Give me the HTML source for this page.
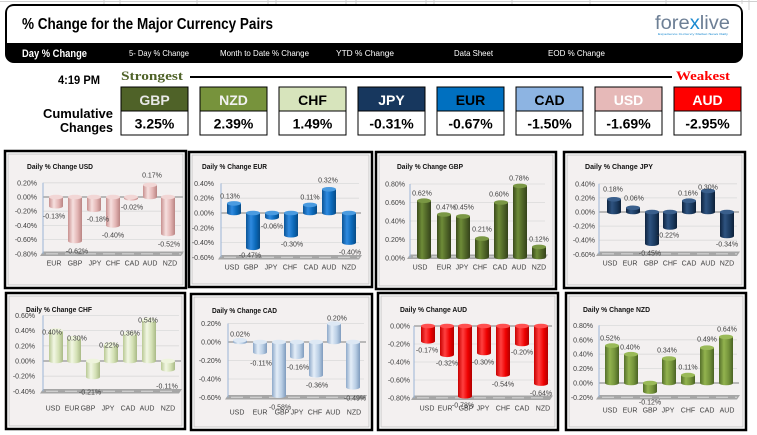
<!DOCTYPE html>
<html><head><meta charset="utf-8"><style>html,body{margin:0;padding:0;background:#fff;width:757px;height:435px;overflow:hidden}svg{display:block}</style></head>
<body>
<svg width="757" height="435" viewBox="0 0 757 435" xmlns="http://www.w3.org/2000/svg" font-family="'Liberation Sans',sans-serif">
<defs>
<linearGradient id="gPk" x1="0" x2="1"><stop offset="0" stop-color="#c8908f"/><stop offset="0.35" stop-color="#f6e0df"/><stop offset="0.7" stop-color="#e2b3b2"/><stop offset="1" stop-color="#b98483"/></linearGradient>
<linearGradient id="gBl" x1="0" x2="1"><stop offset="0" stop-color="#0b5496"/><stop offset="0.35" stop-color="#2f8ae0"/><stop offset="0.7" stop-color="#0a68b8"/><stop offset="1" stop-color="#084a85"/></linearGradient>
<linearGradient id="gDg" x1="0" x2="1"><stop offset="0" stop-color="#3b4b1c"/><stop offset="0.35" stop-color="#6e8c38"/><stop offset="0.7" stop-color="#4e6327"/><stop offset="1" stop-color="#34421a"/></linearGradient>
<linearGradient id="gNv" x1="0" x2="1"><stop offset="0" stop-color="#0f2440"/><stop offset="0.35" stop-color="#2e5380"/><stop offset="0.7" stop-color="#1b3a60"/><stop offset="1" stop-color="#0d2038"/></linearGradient>
<linearGradient id="gLg" x1="0" x2="1"><stop offset="0" stop-color="#b9c994"/><stop offset="0.35" stop-color="#f2f7e4"/><stop offset="0.7" stop-color="#d3e0b4"/><stop offset="1" stop-color="#a9b986"/></linearGradient>
<linearGradient id="gLb" x1="0" x2="1"><stop offset="0" stop-color="#8ea9c9"/><stop offset="0.35" stop-color="#e4eef8"/><stop offset="0.7" stop-color="#b8cde4"/><stop offset="1" stop-color="#7f9bbd"/></linearGradient>
<linearGradient id="gRd" x1="0" x2="1"><stop offset="0" stop-color="#c80000"/><stop offset="0.35" stop-color="#ff4040"/><stop offset="0.7" stop-color="#ee0000"/><stop offset="1" stop-color="#b00000"/></linearGradient>
<linearGradient id="gGr" x1="0" x2="1"><stop offset="0" stop-color="#55702a"/><stop offset="0.35" stop-color="#93b34f"/><stop offset="0.7" stop-color="#73923a"/><stop offset="1" stop-color="#4a6224"/></linearGradient>
<clipPath id="cEur"><rect x="192" y="155" width="177" height="129"/></clipPath>
</defs>

<!-- excel grid remnants -->
<line x1="0" y1="1.5" x2="757" y2="1.5" stroke="#d0d0d0" stroke-width="1"/>
<g stroke="#d0d0d0" stroke-width="1">
<line x1="104" y1="0" x2="104" y2="4"/><line x1="120" y1="0" x2="120" y2="4"/><line x1="197" y1="0" x2="197" y2="4"/><line x1="268" y1="0" x2="268" y2="4"/><line x1="276" y1="0" x2="276" y2="4"/><line x1="346" y1="0" x2="346" y2="4"/><line x1="356" y1="0" x2="356" y2="4"/><line x1="426" y1="0" x2="426" y2="4"/><line x1="434" y1="0" x2="434" y2="4"/><line x1="512" y1="0" x2="512" y2="4"/><line x1="590" y1="0" x2="590" y2="4"/><line x1="666" y1="0" x2="666" y2="4"/><line x1="742" y1="0" x2="742" y2="4"/><line x1="749" y1="0" x2="749" y2="10"/>
</g>

<!-- Header -->
<rect x="5" y="4" width="738" height="59" rx="9" fill="#000"/>
<path d="M7,43 V13 Q7,6 14,6 H734 Q741,6 741,13 V43 Z" fill="#fff"/>
<text x="22" y="29" font-family="'Liberation Sans Narrow','Liberation Sans',sans-serif" font-weight="bold" font-size="16" textLength="251" lengthAdjust="spacingAndGlyphs" fill="#000">% Change for the Major Currency Pairs</text>
<text x="655" y="29" font-size="19" fill="#6d7f95" textLength="75" lengthAdjust="spacingAndGlyphs">fore<tspan fill="#1b8ad0">x</tspan>live</text>
<text x="658" y="35" font-size="3" fill="#1b8ad0" textLength="70" lengthAdjust="spacingAndGlyphs">Experience Currency Market News Daily</text>
<g fill="#fff" font-family="'Liberation Sans Narrow','Liberation Sans',sans-serif">
<text x="22" y="57" font-size="11" font-weight="bold" textLength="65" lengthAdjust="spacingAndGlyphs">Day % Change</text>
<text x="129" y="56" font-size="8.5" textLength="60" lengthAdjust="spacingAndGlyphs">5- Day % Change</text>
<text x="220" y="56" font-size="8.5" textLength="89" lengthAdjust="spacingAndGlyphs">Month to Date % Change</text>
<text x="336" y="56" font-size="8.5" textLength="58" lengthAdjust="spacingAndGlyphs">YTD % Change</text>
<text x="454" y="56" font-size="8.5" textLength="39" lengthAdjust="spacingAndGlyphs">Data Sheet</text>
<text x="548" y="56" font-size="8.5" textLength="57" lengthAdjust="spacingAndGlyphs">EOD % Change</text>
</g>

<!-- strength row -->
<text x="58" y="84" font-family="'Liberation Sans Narrow','Liberation Sans',sans-serif" font-weight="bold" font-size="12" textLength="42" lengthAdjust="spacingAndGlyphs">4:19 PM</text>
<text x="121" y="80" font-family="'Liberation Serif',serif" font-weight="bold" font-size="13" fill="#4f6228" textLength="62" lengthAdjust="spacingAndGlyphs">Strongest</text>
<line x1="190" y1="77" x2="672" y2="77" stroke="#000" stroke-width="2"/>
<text x="676" y="80" font-family="'Liberation Serif',serif" font-weight="bold" font-size="13" fill="#ff0000" textLength="54" lengthAdjust="spacingAndGlyphs">Weakest</text>
<g font-family="'Liberation Sans Narrow','Liberation Sans',sans-serif" font-weight="bold" font-size="13" text-anchor="end">
<text x="113" y="118" textLength="70" lengthAdjust="spacingAndGlyphs">Cumulative</text>
<text x="113" y="132" textLength="53" lengthAdjust="spacingAndGlyphs">Changes</text>
</g>

<g stroke="#000" stroke-width="1">
<rect x="121" y="87" width="67" height="24" fill="#4f6228"/><rect x="121" y="111" width="67" height="24" fill="#fff"/>
<rect x="200" y="87" width="67" height="24" fill="#77933c"/><rect x="200" y="111" width="67" height="24" fill="#fff"/>
<rect x="279" y="87" width="67" height="24" fill="#d7e4bc"/><rect x="279" y="111" width="67" height="24" fill="#fff"/>
<rect x="358" y="87" width="67" height="24" fill="#17375e"/><rect x="358" y="111" width="67" height="24" fill="#fff"/>
<rect x="437" y="87" width="67" height="24" fill="#0070c0"/><rect x="437" y="111" width="67" height="24" fill="#fff"/>
<rect x="516" y="87" width="67" height="24" fill="#8db4e2"/><rect x="516" y="111" width="67" height="24" fill="#fff"/>
<rect x="595" y="87" width="67" height="24" fill="#e6b9b8"/><rect x="595" y="111" width="67" height="24" fill="#fff"/>
<rect x="674" y="87" width="67" height="24" fill="#ff0000"/><rect x="674" y="111" width="67" height="24" fill="#fff"/>
</g>
<g font-family="'Liberation Sans Narrow','Liberation Sans',sans-serif" font-weight="bold" font-size="14" text-anchor="middle">
<text x="154.5" y="105" fill="#e8e8e8">GBP</text>
<text x="233.5" y="105" fill="#f2f2f2">NZD</text>
<text x="312.5" y="105" fill="#000">CHF</text>
<text x="391.5" y="105" fill="#fff">JPY</text>
<text x="470.5" y="105" fill="#000">EUR</text>
<text x="549.5" y="105" fill="#000">CAD</text>
<text x="628.5" y="105" fill="#fff">USD</text>
<text x="707.5" y="105" fill="#fff">AUD</text>
<text x="154.5" y="128.5">3.25%</text>
<text x="233.5" y="128.5">2.39%</text>
<text x="312.5" y="128.5">1.49%</text>
<text x="391.5" y="128.5">-0.31%</text>
<text x="470.5" y="128.5">-0.67%</text>
<text x="549.5" y="128.5">-1.50%</text>
<text x="628.5" y="128.5">-1.69%</text>
<text x="707.5" y="128.5">-2.95%</text>
</g>

<!-- chart boxes -->
<g stroke="#000" stroke-width="2.5" fill="#fff">
<rect x="5" y="151" width="181" height="137"/>
<rect x="189" y="152" width="183" height="135"/>
<rect x="376" y="152" width="180" height="137"/>
<rect x="564" y="152" width="181" height="136"/>
<rect x="6" y="293" width="179" height="136"/>
<rect x="191" y="294" width="181" height="136"/>
<rect x="378" y="293" width="180" height="137"/>
<rect x="566" y="293" width="180" height="137"/>
</g>
<g stroke="#c0c0c0" stroke-width="0.8" fill="#f3f0f0">
<rect x="8" y="154" width="175" height="131"/>
<rect x="192" y="155" width="177" height="129"/>
<rect x="379" y="155" width="174" height="131"/>
<rect x="567" y="155" width="175" height="130"/>
<rect x="9" y="296" width="173" height="130"/>
<rect x="194" y="297" width="175" height="130"/>
<rect x="381" y="296" width="174" height="131"/>
<rect x="569" y="296" width="174" height="131"/>
</g>

<!-- gridlines -->
<g stroke="#dadada" stroke-width="0.8">
<line x1="43" y1="182.8" x2="181" y2="182.8"/><line x1="43" y1="211.2" x2="181" y2="211.2"/><line x1="43" y1="225.4" x2="181" y2="225.4"/><line x1="43" y1="239.6" x2="181" y2="239.6"/>
<line x1="221" y1="183.4" x2="359" y2="183.4"/><line x1="221" y1="198.2" x2="359" y2="198.2"/><line x1="221" y1="227.8" x2="359" y2="227.8"/><line x1="221" y1="242.6" x2="359" y2="242.6"/>
<line x1="410" y1="184" x2="545" y2="184"/><line x1="410" y1="202.5" x2="545" y2="202.5"/><line x1="410" y1="221" x2="545" y2="221"/><line x1="410" y1="239.5" x2="545" y2="239.5"/>
<line x1="599" y1="183.8" x2="737" y2="183.8"/><line x1="599" y1="197.9" x2="737" y2="197.9"/><line x1="599" y1="226.1" x2="737" y2="226.1"/><line x1="599" y1="240.2" x2="737" y2="240.2"/>
<line x1="43" y1="315.4" x2="179" y2="315.4"/><line x1="43" y1="330.6" x2="179" y2="330.6"/><line x1="43" y1="345.8" x2="179" y2="345.8"/><line x1="43" y1="376.2" x2="179" y2="376.2"/>
<line x1="228" y1="323.5" x2="364" y2="323.5"/><line x1="228" y1="360.5" x2="364" y2="360.5"/><line x1="228" y1="379" x2="364" y2="379"/>
<line x1="414" y1="344" x2="550" y2="344"/><line x1="414" y1="362" x2="550" y2="362"/><line x1="414" y1="380" x2="550" y2="380"/>
<line x1="599" y1="325.4" x2="737" y2="325.4"/><line x1="599" y1="339.8" x2="737" y2="339.8"/><line x1="599" y1="354.2" x2="737" y2="354.2"/><line x1="599" y1="368.6" x2="737" y2="368.6"/>
</g>
<!-- zero lines -->
<g stroke="#a6a6a6" stroke-width="1.6">
<line x1="43" y1="197" x2="183" y2="197"/>
<line x1="221" y1="213" x2="361" y2="213"/>
<line x1="599" y1="212" x2="739" y2="212"/>
<line x1="43" y1="361" x2="181" y2="361"/>
<line x1="228" y1="342" x2="366" y2="342"/>
<line x1="414" y1="326" x2="552" y2="326"/>
<line x1="599" y1="383" x2="739" y2="383"/>
</g>
<!-- floors -->
<g fill="#a6a6a6">
<polygon points="43,251.5 184,251.5 181,256 40,256"/>
<polygon points="221,255 362,255 359,259.5 218,259.5"/>
<polygon points="410,254.5 548,254.5 545,259 407,259"/>
<polygon points="599,251.5 740,251.5 737,256 596,256"/>
<polygon points="43,389 182,389 179,393.5 40,393.5"/>
<polygon points="228,395 367,395 364,399.5 225,399.5"/>
<polygon points="414,395.5 553,395.5 550,400 411,400"/>
<polygon points="599,395 740,395 737,399.5 596,399.5"/>
</g>
<g stroke="#d4d4d4" stroke-width="1.2" stroke-dasharray="12 7">
<line x1="46" y1="253.8" x2="181" y2="253.8"/>
<line x1="224" y1="257.3" x2="359" y2="257.3"/>
<line x1="413" y1="256.8" x2="545" y2="256.8"/>
<line x1="602" y1="253.8" x2="737" y2="253.8"/>
<line x1="46" y1="391.3" x2="179" y2="391.3"/>
<line x1="231" y1="397.3" x2="364" y2="397.3"/>
<line x1="417" y1="397.8" x2="550" y2="397.8"/>
<line x1="602" y1="397.3" x2="737" y2="397.3"/>
</g>
<!-- axes -->
<g stroke="#9bb5d6" stroke-width="1">
<line x1="43" y1="182.8" x2="43" y2="254"/>
<line x1="221" y1="183.4" x2="221" y2="257.4"/>
<line x1="410" y1="184" x2="410" y2="258"/>
<line x1="599" y1="183.8" x2="599" y2="254.3"/>
<line x1="43" y1="315.4" x2="43" y2="391.4"/>
<line x1="228" y1="323.5" x2="228" y2="397.5"/>
<line x1="414" y1="326" x2="414" y2="398"/>
<line x1="599" y1="325.4" x2="599" y2="397.4"/>
</g>

<!-- Chart 1 USD bars -->
<g>
<rect x="49" y="197" width="14" height="9.2" fill="url(#gPk)"/><ellipse cx="56" cy="206.2" rx="7" ry="2.3" fill="url(#gPk)"/><ellipse cx="56" cy="197" rx="7" ry="2.3" fill="#f2d6d5"/>
<rect x="68" y="197" width="14" height="44" fill="url(#gPk)"/><ellipse cx="75" cy="241" rx="7" ry="2.3" fill="url(#gPk)"/><ellipse cx="75" cy="197" rx="7" ry="2.3" fill="#f2d6d5"/>
<rect x="87" y="197" width="14" height="12.8" fill="url(#gPk)"/><ellipse cx="94" cy="209.8" rx="7" ry="2.3" fill="url(#gPk)"/><ellipse cx="94" cy="197" rx="7" ry="2.3" fill="#f2d6d5"/>
<rect x="106" y="197" width="14" height="28.4" fill="url(#gPk)"/><ellipse cx="113" cy="225.4" rx="7" ry="2.3" fill="url(#gPk)"/><ellipse cx="113" cy="197" rx="7" ry="2.3" fill="#f2d6d5"/>
<rect x="124" y="197" width="14" height="1.4" fill="url(#gPk)"/><ellipse cx="131" cy="198.4" rx="7" ry="2.3" fill="url(#gPk)"/><ellipse cx="131" cy="197" rx="7" ry="2.3" fill="#f2d6d5"/>
<rect x="143" y="184.9" width="14" height="12.1" fill="url(#gPk)"/><ellipse cx="150" cy="197" rx="7" ry="2.3" fill="url(#gPk)"/><ellipse cx="150" cy="184.9" rx="7" ry="2.3" fill="#f2d6d5"/>
<rect x="161" y="197" width="14" height="36.9" fill="url(#gPk)"/><ellipse cx="168" cy="233.9" rx="7" ry="2.3" fill="url(#gPk)"/><ellipse cx="168" cy="197" rx="7" ry="2.3" fill="#f2d6d5"/>
</g>
<!-- Chart 2 EUR bars -->
<g>
<rect x="227" y="203.4" width="14" height="9.6" fill="url(#gBl)"/><ellipse cx="234" cy="213" rx="7" ry="2.3" fill="url(#gBl)"/><ellipse cx="234" cy="203.4" rx="7" ry="2.3" fill="#4a9be0"/>
<rect x="246" y="213" width="14" height="34.8" fill="url(#gBl)"/><ellipse cx="253" cy="247.8" rx="7" ry="2.3" fill="url(#gBl)"/><ellipse cx="253" cy="213" rx="7" ry="2.3" fill="#4a9be0"/>
<rect x="265" y="213" width="14" height="4.4" fill="url(#gBl)"/><ellipse cx="272" cy="217.4" rx="7" ry="2.3" fill="url(#gBl)"/><ellipse cx="272" cy="213" rx="7" ry="2.3" fill="#4a9be0"/>
<rect x="284" y="213" width="14" height="22.2" fill="url(#gBl)"/><ellipse cx="291" cy="235.2" rx="7" ry="2.3" fill="url(#gBl)"/><ellipse cx="291" cy="213" rx="7" ry="2.3" fill="#4a9be0"/>
<rect x="303" y="204.9" width="14" height="8.1" fill="url(#gBl)"/><ellipse cx="310" cy="213" rx="7" ry="2.3" fill="url(#gBl)"/><ellipse cx="310" cy="204.9" rx="7" ry="2.3" fill="#4a9be0"/>
<rect x="322" y="189.3" width="14" height="23.7" fill="url(#gBl)"/><ellipse cx="329" cy="213" rx="7" ry="2.3" fill="url(#gBl)"/><ellipse cx="329" cy="189.3" rx="7" ry="2.3" fill="#4a9be0"/>
<rect x="342" y="213" width="14" height="29.6" fill="url(#gBl)"/><ellipse cx="349" cy="242.6" rx="7" ry="2.3" fill="url(#gBl)"/><ellipse cx="349" cy="213" rx="7" ry="2.3" fill="#4a9be0"/>
</g>
<!-- Chart 3 GBP bars -->
<g>
<rect x="417" y="200.7" width="14" height="56.3" fill="url(#gDg)"/><ellipse cx="424" cy="257" rx="7" ry="2.3" fill="url(#gDg)"/><ellipse cx="424" cy="200.7" rx="7" ry="2.3" fill="#7a9744"/>
<rect x="437" y="214.5" width="14" height="42.5" fill="url(#gDg)"/><ellipse cx="444" cy="257" rx="7" ry="2.3" fill="url(#gDg)"/><ellipse cx="444" cy="214.5" rx="7" ry="2.3" fill="#7a9744"/>
<rect x="456" y="216.4" width="14" height="40.6" fill="url(#gDg)"/><ellipse cx="463" cy="257" rx="7" ry="2.3" fill="url(#gDg)"/><ellipse cx="463" cy="216.4" rx="7" ry="2.3" fill="#7a9744"/>
<rect x="475" y="238.6" width="14" height="18.4" fill="url(#gDg)"/><ellipse cx="482" cy="257" rx="7" ry="2.3" fill="url(#gDg)"/><ellipse cx="482" cy="238.6" rx="7" ry="2.3" fill="#7a9744"/>
<rect x="494" y="202.5" width="14" height="54.5" fill="url(#gDg)"/><ellipse cx="501" cy="257" rx="7" ry="2.3" fill="url(#gDg)"/><ellipse cx="501" cy="202.5" rx="7" ry="2.3" fill="#7a9744"/>
<rect x="513" y="185.9" width="14" height="71.1" fill="url(#gDg)"/><ellipse cx="520" cy="257" rx="7" ry="2.3" fill="url(#gDg)"/><ellipse cx="520" cy="185.9" rx="7" ry="2.3" fill="#7a9744"/>
<rect x="532" y="246.9" width="14" height="10.1" fill="url(#gDg)"/><ellipse cx="539" cy="257" rx="7" ry="2.3" fill="url(#gDg)"/><ellipse cx="539" cy="246.9" rx="7" ry="2.3" fill="#7a9744"/>
</g>
<!-- Chart 4 JPY bars -->
<g>
<rect x="607" y="199.3" width="14" height="12.7" fill="url(#gNv)"/><ellipse cx="614" cy="212" rx="7" ry="2.3" fill="url(#gNv)"/><ellipse cx="614" cy="199.3" rx="7" ry="2.3" fill="#3a5f8c"/>
<rect x="626" y="207.8" width="14" height="4.2" fill="url(#gNv)"/><ellipse cx="633" cy="212" rx="7" ry="2.3" fill="url(#gNv)"/><ellipse cx="633" cy="207.8" rx="7" ry="2.3" fill="#3a5f8c"/>
<rect x="645" y="212" width="14" height="31.7" fill="url(#gNv)"/><ellipse cx="652" cy="243.7" rx="7" ry="2.3" fill="url(#gNv)"/><ellipse cx="652" cy="212" rx="7" ry="2.3" fill="#3a5f8c"/>
<rect x="663" y="212" width="14" height="15.5" fill="url(#gNv)"/><ellipse cx="670" cy="227.5" rx="7" ry="2.3" fill="url(#gNv)"/><ellipse cx="670" cy="212" rx="7" ry="2.3" fill="#3a5f8c"/>
<rect x="682" y="200.7" width="14" height="11.3" fill="url(#gNv)"/><ellipse cx="689" cy="212" rx="7" ry="2.3" fill="url(#gNv)"/><ellipse cx="689" cy="200.7" rx="7" ry="2.3" fill="#3a5f8c"/>
<rect x="701" y="190.9" width="14" height="21.1" fill="url(#gNv)"/><ellipse cx="708" cy="212" rx="7" ry="2.3" fill="url(#gNv)"/><ellipse cx="708" cy="190.9" rx="7" ry="2.3" fill="#3a5f8c"/>
<rect x="720" y="212" width="14" height="24" fill="url(#gNv)"/><ellipse cx="727" cy="236" rx="7" ry="2.3" fill="url(#gNv)"/><ellipse cx="727" cy="212" rx="7" ry="2.3" fill="#3a5f8c"/>
</g>
<!-- Chart 5 CHF bars -->
<g>
<rect x="49" y="330.6" width="14" height="30.4" fill="url(#gLg)"/><ellipse cx="56" cy="361" rx="7" ry="2.3" fill="url(#gLg)"/><ellipse cx="56" cy="330.6" rx="7" ry="2.3" fill="#eef4dc"/>
<rect x="67" y="338.2" width="14" height="22.8" fill="url(#gLg)"/><ellipse cx="74" cy="361" rx="7" ry="2.3" fill="url(#gLg)"/><ellipse cx="74" cy="338.2" rx="7" ry="2.3" fill="#eef4dc"/>
<rect x="86" y="361" width="14" height="16" fill="url(#gLg)"/><ellipse cx="93" cy="377" rx="7" ry="2.3" fill="url(#gLg)"/><ellipse cx="93" cy="361" rx="7" ry="2.3" fill="#eef4dc"/>
<rect x="104" y="344.3" width="14" height="16.7" fill="url(#gLg)"/><ellipse cx="111" cy="361" rx="7" ry="2.3" fill="url(#gLg)"/><ellipse cx="111" cy="344.3" rx="7" ry="2.3" fill="#eef4dc"/>
<rect x="123" y="333.6" width="14" height="27.4" fill="url(#gLg)"/><ellipse cx="130" cy="361" rx="7" ry="2.3" fill="url(#gLg)"/><ellipse cx="130" cy="333.6" rx="7" ry="2.3" fill="#eef4dc"/>
<rect x="142" y="320" width="14" height="41" fill="url(#gLg)"/><ellipse cx="149" cy="361" rx="7" ry="2.3" fill="url(#gLg)"/><ellipse cx="149" cy="320" rx="7" ry="2.3" fill="#eef4dc"/>
<rect x="161" y="361" width="14" height="8.4" fill="url(#gLg)"/><ellipse cx="168" cy="369.4" rx="7" ry="2.3" fill="url(#gLg)"/><ellipse cx="168" cy="361" rx="7" ry="2.3" fill="#eef4dc"/>
</g>
<!-- Chart 6 CAD bars -->
<g>
<rect x="233" y="340.2" width="14" height="1.8" fill="url(#gLb)"/><ellipse cx="240" cy="342" rx="7" ry="2.3" fill="url(#gLb)"/><ellipse cx="240" cy="340.2" rx="7" ry="2.3" fill="#dde8f4"/>
<rect x="253" y="342" width="14" height="10.2" fill="url(#gLb)"/><ellipse cx="260" cy="352.2" rx="7" ry="2.3" fill="url(#gLb)"/><ellipse cx="260" cy="342" rx="7" ry="2.3" fill="#dde8f4"/>
<rect x="272" y="342" width="14" height="53.7" fill="url(#gLb)"/><ellipse cx="279" cy="395.7" rx="7" ry="2.3" fill="url(#gLb)"/><ellipse cx="279" cy="342" rx="7" ry="2.3" fill="#dde8f4"/>
<rect x="290" y="342" width="14" height="14.8" fill="url(#gLb)"/><ellipse cx="297" cy="356.8" rx="7" ry="2.3" fill="url(#gLb)"/><ellipse cx="297" cy="342" rx="7" ry="2.3" fill="#dde8f4"/>
<rect x="309" y="342" width="14" height="33.3" fill="url(#gLb)"/><ellipse cx="316" cy="375.3" rx="7" ry="2.3" fill="url(#gLb)"/><ellipse cx="316" cy="342" rx="7" ry="2.3" fill="#dde8f4"/>
<rect x="327" y="323.5" width="14" height="18.5" fill="url(#gLb)"/><ellipse cx="334" cy="342" rx="7" ry="2.3" fill="url(#gLb)"/><ellipse cx="334" cy="323.5" rx="7" ry="2.3" fill="#dde8f4"/>
<rect x="346" y="342" width="14" height="45.3" fill="url(#gLb)"/><ellipse cx="353" cy="387.3" rx="7" ry="2.3" fill="url(#gLb)"/><ellipse cx="353" cy="342" rx="7" ry="2.3" fill="#dde8f4"/>
</g>
<!-- Chart 7 AUD bars -->
<g>
<rect x="421" y="326" width="14" height="15.3" fill="url(#gRd)"/><ellipse cx="428" cy="341.3" rx="7" ry="2.3" fill="url(#gRd)"/><ellipse cx="428" cy="326" rx="7" ry="2.3" fill="#ff5050"/>
<rect x="440" y="326" width="14" height="28.8" fill="url(#gRd)"/><ellipse cx="447" cy="354.8" rx="7" ry="2.3" fill="url(#gRd)"/><ellipse cx="447" cy="326" rx="7" ry="2.3" fill="#ff5050"/>
<rect x="458" y="326" width="14" height="70.2" fill="url(#gRd)"/><ellipse cx="465" cy="396.2" rx="7" ry="2.3" fill="url(#gRd)"/><ellipse cx="465" cy="326" rx="7" ry="2.3" fill="#ff5050"/>
<rect x="477" y="326" width="14" height="27" fill="url(#gRd)"/><ellipse cx="484" cy="353" rx="7" ry="2.3" fill="url(#gRd)"/><ellipse cx="484" cy="326" rx="7" ry="2.3" fill="#ff5050"/>
<rect x="496" y="326" width="14" height="48.6" fill="url(#gRd)"/><ellipse cx="503" cy="374.6" rx="7" ry="2.3" fill="url(#gRd)"/><ellipse cx="503" cy="326" rx="7" ry="2.3" fill="#ff5050"/>
<rect x="515" y="326" width="14" height="18" fill="url(#gRd)"/><ellipse cx="522" cy="344" rx="7" ry="2.3" fill="url(#gRd)"/><ellipse cx="522" cy="326" rx="7" ry="2.3" fill="#ff5050"/>
<rect x="534" y="326" width="14" height="57.6" fill="url(#gRd)"/><ellipse cx="541" cy="383.6" rx="7" ry="2.3" fill="url(#gRd)"/><ellipse cx="541" cy="326" rx="7" ry="2.3" fill="#ff5050"/>
</g>
<!-- Chart 8 NZD bars -->
<g>
<rect x="605" y="345.6" width="14" height="37.4" fill="url(#gGr)"/><ellipse cx="612" cy="383" rx="7" ry="2.3" fill="url(#gGr)"/><ellipse cx="612" cy="345.6" rx="7" ry="2.3" fill="#9aba58"/>
<rect x="624" y="354.2" width="14" height="28.8" fill="url(#gGr)"/><ellipse cx="631" cy="383" rx="7" ry="2.3" fill="url(#gGr)"/><ellipse cx="631" cy="354.2" rx="7" ry="2.3" fill="#9aba58"/>
<rect x="643" y="383" width="14" height="8.6" fill="url(#gGr)"/><ellipse cx="650" cy="391.6" rx="7" ry="2.3" fill="url(#gGr)"/><ellipse cx="650" cy="383" rx="7" ry="2.3" fill="#9aba58"/>
<rect x="662" y="358.5" width="14" height="24.5" fill="url(#gGr)"/><ellipse cx="669" cy="383" rx="7" ry="2.3" fill="url(#gGr)"/><ellipse cx="669" cy="358.5" rx="7" ry="2.3" fill="#9aba58"/>
<rect x="681" y="375.1" width="14" height="7.9" fill="url(#gGr)"/><ellipse cx="688" cy="383" rx="7" ry="2.3" fill="url(#gGr)"/><ellipse cx="688" cy="375.1" rx="7" ry="2.3" fill="#9aba58"/>
<rect x="700" y="347.7" width="14" height="35.3" fill="url(#gGr)"/><ellipse cx="707" cy="383" rx="7" ry="2.3" fill="url(#gGr)"/><ellipse cx="707" cy="347.7" rx="7" ry="2.3" fill="#9aba58"/>
<rect x="719" y="336.9" width="14" height="46.1" fill="url(#gGr)"/><ellipse cx="726" cy="383" rx="7" ry="2.3" fill="url(#gGr)"/><ellipse cx="726" cy="336.9" rx="7" ry="2.3" fill="#9aba58"/>
</g>

<!-- Titles -->
<g font-weight="bold" font-size="7" fill="#111">
<text x="27" y="169" textLength="66" lengthAdjust="spacingAndGlyphs">Daily % Change USD</text>
<text x="202" y="169" textLength="65" lengthAdjust="spacingAndGlyphs">Daily % Change EUR</text>
<text x="397" y="169" textLength="66" lengthAdjust="spacingAndGlyphs">Daily % Change GBP</text>
<text x="585" y="169" textLength="68" lengthAdjust="spacingAndGlyphs">Daily % Change JPY</text>
<text x="26" y="312" textLength="66" lengthAdjust="spacingAndGlyphs">Daily % Change CHF</text>
<text x="212" y="313" textLength="65" lengthAdjust="spacingAndGlyphs">Daily % Change CAD</text>
<text x="400" y="312" textLength="67" lengthAdjust="spacingAndGlyphs">Daily % Change AUD</text>
<text x="583" y="312" textLength="67" lengthAdjust="spacingAndGlyphs">Daily % Change NZD</text>
</g>

<!-- Y axis labels -->
<g font-size="7" fill="#404040" text-anchor="end">
<text x="37" y="185.3">0.20%</text><text x="37" y="199.5">0.00%</text><text x="37" y="213.7">-0.20%</text><text x="37" y="227.9">-0.40%</text><text x="37" y="242.1">-0.60%</text><text x="37" y="256.3">-0.80%</text>
<g clip-path="url(#cEur)"><text x="214" y="185.9">0.40%</text><text x="214" y="200.7">0.20%</text><text x="214" y="215.5">0.00%</text><text x="214" y="230.3">-0.20%</text><text x="214" y="245.1">-0.40%</text><text x="214" y="259.9">-0.60%</text></g>
<text x="405" y="186.5">0.80%</text><text x="405" y="205">0.60%</text><text x="405" y="223.5">0.40%</text><text x="405" y="242">0.20%</text><text x="405" y="260.5">0.00%</text>
<text x="595" y="186.3">0.40%</text><text x="595" y="200.4">0.20%</text><text x="595" y="214.5">0.00%</text><text x="595" y="228.6">-0.20%</text><text x="595" y="242.7">-0.40%</text><text x="595" y="256.8">-0.60%</text>
<text x="35" y="317.9">0.60%</text><text x="35" y="333.1">0.40%</text><text x="35" y="348.3">0.20%</text><text x="35" y="363.5">0.00%</text><text x="35" y="378.7">-0.20%</text><text x="35" y="393.9">-0.40%</text>
<text x="221" y="326">0.20%</text><text x="221" y="344.5">0.00%</text><text x="221" y="363">-0.20%</text><text x="221" y="381.5">-0.40%</text><text x="221" y="400">-0.60%</text>
<text x="410" y="328.5">0.00%</text><text x="410" y="346.5">-0.20%</text><text x="410" y="364.5">-0.40%</text><text x="410" y="382.5">-0.60%</text><text x="410" y="400.5">-0.80%</text>
<text x="593" y="327.9">0.80%</text><text x="593" y="342.3">0.60%</text><text x="593" y="356.7">0.40%</text><text x="593" y="371.1">0.20%</text><text x="593" y="385.5">0.00%</text><text x="593" y="399.9">-0.20%</text>
</g>

<!-- X axis labels -->
<g font-size="7" fill="#404040" text-anchor="middle">
<text x="54" y="265.5">EUR</text><text x="75" y="265.5">GBP</text><text x="95" y="265.5">JPY</text><text x="113" y="265.5">CHF</text><text x="132" y="265.5">CAD</text><text x="150" y="265.5">AUD</text><text x="170" y="265.5">NZD</text>
<text x="232" y="269.5">USD</text><text x="251" y="269.5">GBP</text><text x="271" y="269.5">JPY</text><text x="290" y="269.5">CHF</text><text x="311" y="269.5">CAD</text><text x="329" y="269.5">AUD</text><text x="349" y="269.5">NZD</text>
<text x="420" y="269.5">USD</text><text x="444" y="269.5">EUR</text><text x="462" y="269.5">JPY</text><text x="480" y="269.5">CHF</text><text x="500" y="269.5">CAD</text><text x="519" y="269.5">AUD</text><text x="539" y="269.5">NZD</text>
<text x="610" y="265.5">USD</text><text x="630" y="265.5">EUR</text><text x="651" y="265.5">GBP</text><text x="670" y="265.5">CHF</text><text x="689" y="265.5">CAD</text><text x="708" y="265.5">AUD</text><text x="727" y="265.5">NZD</text>
<text x="53" y="410.5">USD</text><text x="72" y="410.5">EUR</text><text x="88" y="410.5">GBP</text><text x="108" y="410.5">JPY</text><text x="128" y="410.5">CAD</text><text x="147" y="410.5">AUD</text><text x="168" y="410.5">NZD</text>
<text x="237" y="414.5">USD</text><text x="260" y="414.5">EUR</text><text x="282" y="414.5">GBP</text><text x="297" y="414.5">JPY</text><text x="315" y="414.5">CHF</text><text x="333" y="414.5">AUD</text><text x="354" y="414.5">NZD</text>
<text x="427" y="410.5">USD</text><text x="445" y="410.5">EUR</text><text x="466" y="410.5">GBP</text><text x="483" y="410.5">JPY</text><text x="503" y="410.5">CHF</text><text x="522" y="410.5">CAD</text><text x="543" y="410.5">NZD</text>
<text x="610" y="412.5">USD</text><text x="630" y="412.5">EUR</text><text x="650" y="412.5">GBP</text><text x="668" y="412.5">JPY</text><text x="688" y="412.5">CHF</text><text x="707" y="412.5">CAD</text><text x="727" y="412.5">AUD</text>
</g>

<!-- Data labels -->
<g font-size="7" fill="#404040" text-anchor="middle">
<text x="54" y="218.5">-0.13%</text><text x="77" y="253.5">-0.62%</text><text x="98" y="221.5">-0.18%</text><text x="113" y="237.5">-0.40%</text><text x="132" y="209.5">-0.02%</text><text x="152" y="177.5">0.17%</text><text x="169" y="246.5">-0.52%</text>
<text x="230" y="198.5">0.13%</text><text x="250" y="257.5">-0.47%</text><text x="272" y="228.5">-0.06%</text><text x="292" y="246.5">-0.30%</text><text x="310" y="199.5">0.11%</text><text x="328" y="182.5">0.32%</text><text x="350" y="254.5">-0.40%</text>
<text x="422" y="195.5">0.62%</text><text x="446" y="209.5">0.47%</text><text x="464" y="209.5">0.45%</text><text x="482" y="231.5">0.21%</text><text x="499" y="196.5">0.60%</text><text x="519" y="180.5">0.78%</text><text x="539" y="241.5">0.12%</text>
<text x="613" y="191.5">0.18%</text><text x="634" y="200.5">0.06%</text><text x="650" y="255.5">-0.45%</text><text x="668" y="237.5">-0.22%</text><text x="688" y="195.5">0.16%</text><text x="708" y="189.5">0.30%</text><text x="727" y="246.5">-0.34%</text>
<text x="52" y="334.5">0.40%</text><text x="77" y="340.5">0.30%</text><text x="90" y="394.5">-0.21%</text><text x="109" y="347.5">0.22%</text><text x="130" y="335.5">0.36%</text><text x="148" y="322.5">0.54%</text><text x="167" y="388.5">-0.11%</text>
<text x="240" y="336.5">0.02%</text><text x="261" y="365.5">-0.11%</text><text x="280" y="409.5">-0.58%</text><text x="298" y="369.5">-0.16%</text><text x="317" y="387.5">-0.36%</text><text x="337" y="320.5">0.20%</text><text x="355" y="400.5">-0.49%</text>
<text x="427" y="352.5">-0.17%</text><text x="447" y="365.5">-0.32%</text><text x="463" y="407.5">-0.78%</text><text x="483" y="364.5">-0.30%</text><text x="503" y="386.5">-0.54%</text><text x="522" y="354.5">-0.20%</text><text x="541" y="395.5">-0.64%</text>
<text x="610" y="340.5">0.52%</text><text x="630" y="349.5">0.40%</text><text x="650" y="404.5">-0.12%</text><text x="667" y="352.5">0.34%</text><text x="688" y="369.5">0.11%</text><text x="707" y="341.5">0.49%</text><text x="727" y="331.5">0.64%</text>
</g>
</svg>
</body></html>
